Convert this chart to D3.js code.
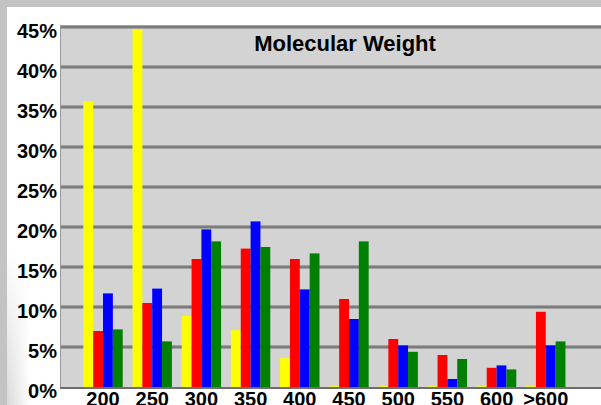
<!DOCTYPE html>
<html>
<head>
<meta charset="utf-8">
<script src="https://cdn.jsdelivr.net/npm/d3@7/dist/d3.min.js"></script>
<style>
  html, body { margin: 0; padding: 0; background: #ffffff; }
  svg { display: block; }
  text { font-family: "Liberation Sans", Arial, Helvetica, sans-serif; font-weight: bold; fill: #000; }
</style>
</head>
<body>
<svg id="chart" width="601" height="405"></svg>
<script>
// Molecular weight distribution, share of compounds per bin (%)
const categories = ["200", "250", "300", "350", "400", "450", "500", "550", "600", ">600"];
const seriesNames = ["yellow", "red", "blue", "green"];
const seriesColors = ["#ffff00", "#ff0000", "#0000ff", "#008000"];
const yellowValues = [35.7, 44.7, 8.9, 7.1, 3.6, 0.1, 0.1, 0.1, 0.1, 0.1];
const redValues    = [7.0, 10.5, 16.0, 17.3, 16.0, 11.0, 6.0, 4.0, 2.4, 9.4];
const blueValues   = [11.7, 12.3, 19.7, 20.7, 12.2, 8.5, 5.2, 1.0, 2.7, 5.2];
const greenValues  = [7.2, 5.7, 18.2, 17.5, 16.7, 18.2, 4.4, 3.5, 2.2, 5.7];
const yTicks = [0, 5, 10, 15, 20, 25, 30, 35, 40, 45];
const title = "Molecular Weight";

const seriesValues = [yellowValues, redValues, blueValues, greenValues];
const rows = categories.map((c, i) => ({
  category: c,
  values: seriesNames.map((s, k) => ({ key: s, color: seriesColors[k], value: seriesValues[k][i] }))
}));

const svg = d3.select("#chart");
const W = 601, H = 405;
const plot = { left: 60, right: 601, top: 27, bottom: 387 };

// frame: grey strips along the top and left edges, softening toward the lower left
const defs = svg.append("defs");
const grad = defs.append("linearGradient").attr("id", "edgeFade").attr("x1", 0).attr("x2", 1).attr("y1", 0).attr("y2", 0);
grad.append("stop").attr("offset", 0).attr("stop-color", "#cdcdcd");
grad.append("stop").attr("offset", 1).attr("stop-color", "#ffffff");
const gradV = defs.append("linearGradient").attr("id", "edgeFadeV").attr("x1", 0).attr("x2", 0).attr("y1", 0).attr("y2", 1);
gradV.append("stop").attr("offset", 0).attr("stop-color", "#000");
gradV.append("stop").attr("offset", 1).attr("stop-color", "#fff");
defs.append("mask").attr("id", "fadeMask")
  .append("rect").attr("x", 0).attr("y", 250).attr("width", 40).attr("height", H - 250).attr("fill", "url(#edgeFadeV)");

svg.append("rect").attr("x", 0).attr("y", 250).attr("width", 30).attr("height", H - 250)
  .attr("fill", "url(#edgeFade)").attr("mask", "url(#fadeMask)");
svg.append("rect").attr("x", 0).attr("y", 0).attr("width", W).attr("height", 7).attr("fill", "#c3c3c3");
svg.append("rect").attr("x", 0).attr("y", 0).attr("width", 7).attr("height", H).attr("fill", "#c3c3c3");

// plot background
svg.append("rect")
  .attr("x", plot.left).attr("y", plot.top - 2)
  .attr("width", plot.right - plot.left).attr("height", plot.bottom - plot.top + 2)
  .attr("fill", "#d3d3d3");

const y = d3.scaleLinear().domain([0, 45]).range([plot.bottom, plot.top]);
const x0 = d3.scaleBand().domain(categories).range([73.5, 575.3]).paddingInner(0.2).paddingOuter(0.2);
const x1 = d3.scaleBand().domain(seriesNames).range([0, x0.bandwidth()]);

// gridlines
const grid = svg.append("g");
grid.selectAll("line.g1").data(yTicks.filter(t => t > 0)).join("line")
  .attr("x1", plot.left).attr("x2", plot.right)
  .attr("y1", d => y(d)).attr("y2", d => y(d))
  .attr("stroke", "#a2a2a2").attr("stroke-width", 4);
grid.selectAll("line.g2").data(yTicks.filter(t => t > 0)).join("line")
  .attr("x1", plot.left).attr("x2", plot.right)
  .attr("y1", d => y(d)).attr("y2", d => y(d))
  .attr("stroke", "#7c7c7c").attr("stroke-width", 2);

// left edge
svg.append("line").attr("x1", plot.left + 0.5).attr("x2", plot.left + 0.5)
  .attr("y1", plot.top - 2).attr("y2", plot.bottom)
  .attr("stroke", "#9a9a9a").attr("stroke-width", 1);

// bars
const groups = svg.append("g").selectAll("g").data(rows).join("g")
  .attr("transform", d => `translate(${x0(d.category)},0)`);
groups.selectAll("rect").data(d => d.values).join("rect")
  .attr("x", d => x1(d.key))
  .attr("width", x1.bandwidth())
  .attr("y", d => y(d.value))
  .attr("height", d => y(0) - y(d.value))
  .attr("fill", d => d.color);

// baseline
svg.append("line").attr("x1", plot.left).attr("x2", plot.right)
  .attr("y1", plot.bottom + 1).attr("y2", plot.bottom + 1)
  .attr("stroke", "#6e6e6e").attr("stroke-width", 2);

// y axis labels
const yAxis = d3.axisLeft(y).tickValues(yTicks).tickFormat(d => d + "%").tickSize(0).tickPadding(3);
const gy = svg.append("g").attr("transform", `translate(${plot.left},0)`).call(yAxis);
gy.select(".domain").remove();
gy.selectAll("text").attr("font-size", 20).attr("dy", "0.5em")
  .style("font-family", "'Liberation Sans', Arial, sans-serif").style("font-weight", "bold").attr("fill", "#000");

// x axis labels
const xAxis = d3.axisBottom(x0).tickSize(0).tickPadding(0);
const gx = svg.append("g").attr("transform", `translate(0,${plot.bottom})`).call(xAxis);
gx.select(".domain").remove();
gx.selectAll("text").attr("font-size", 20).attr("y", 19).attr("dy", 0)
  .style("font-family", "'Liberation Sans', Arial, sans-serif").style("font-weight", "bold").attr("fill", "#000");

// title
svg.append("text").attr("x", 345).attr("y", 51).attr("text-anchor", "middle")
  .attr("font-size", 22).text(title);
</script>
</body>
</html>
